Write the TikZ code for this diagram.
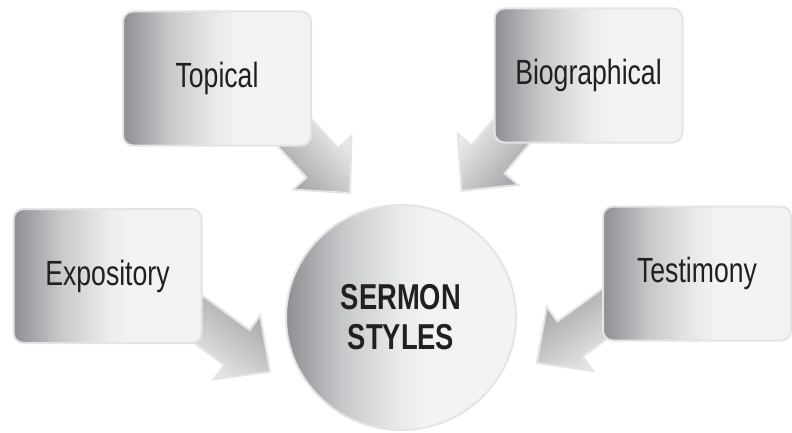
\documentclass[tikz,border=0pt]{standalone}
\usepackage{fontspec}
\newfontfamily\sermonfont{Liberation Sans}[FakeStretch=0.76]
\usetikzlibrary{calc, shapes.geometric}
\definecolor{ShadeDark}{HTML}{8E8F93}
\definecolor{ShadeMid}{HTML}{C8C9CB}
\definecolor{ShadeSoft}{HTML}{EAEBEC}
\definecolor{ShadeLight}{HTML}{F3F3F3}
\definecolor{ArrowDark}{HTML}{9D9EA2}
\definecolor{RimColor}{HTML}{E4E4E4}
\definecolor{TextColor}{HTML}{231F20}
\pgfdeclarehorizontalshading{sermon_shade}{100bp}{color(0bp)=(ShadeDark);
                                                  color(25bp)=(ShadeDark);
                                                  color(37.5bp)=(ShadeMid);
                                                  color(50bp)=(ShadeSoft);
                                                  color(56bp)=(ShadeLight);
                                                  color(100bp)=(ShadeLight)}
\pgfdeclarelayer{background}
\pgfsetlayers{background,main}
\tikzstyle{sermon_box}=[rectangle,
                        minimum height=3.35cm,
                        minimum width=4.7cm,
                        draw=RimColor,
                        line width=0.05cm,
                        rounded corners=0.25cm,
                        shading=sermon_shade,
                        text=TextColor,
                        font=\sermonfont\fontsize{24.9}{28}\selectfont, ]
\tikzstyle{sermon_hub}=[ellipse,
                        minimum width=5.75cm,
                        minimum height=5.625cm,
                        inner sep=0pt,
                        draw=RimColor,
                        line width=0.05cm,
                        shading=sermon_shade,
                        align=center,
                        text=TextColor,
                        font=\sermonfont\bfseries\fontsize{25.6}{28.45}\selectfont, ]
\tikzstyle{sermon_arrow}=[draw=RimColor,
                          line width=0.05cm,
                          line join=miter,
                          top color=ShadeLight,
                          bottom color=ArrowDark, ]
\newcommand{\sermonarrow}[3]{%
  \coordinate (arrow_tail) at ($(#1)!-0.9cm!(#2)$);
  \coordinate (arrow_neck) at ($(#2)!1.025cm!(#1)$);
  \draw[sermon_arrow, shading angle=#3]
    ($(arrow_tail)!0.54cm!90:(#2)$) -- ($(arrow_neck)!0.54cm!90:(#2)$)
    -- ($(arrow_neck)!0.99cm!90:(#2)$) -- (#2)
    -- ($(arrow_neck)!0.99cm!-90:(#2)$) -- ($(arrow_neck)!0.54cm!-90:(#2)$)
    -- ($(arrow_tail)!0.54cm!-90:(#2)$) -- cycle;
}
\begin{document}
\begin{tikzpicture}
    \useasboundingbox (0cm, 0cm) rectangle (19.8cm, -10.825cm);

    \node at (10.025cm, -7.9375cm) (sermon) [sermon_hub] {SERMON\\STYLES};

    \foreach \name/\x/\y/\label in {topical/5.425/-1.9625/Topical,
                                    biographical/14.7125/-1.8875/Biographical,
                                    expository/2.6875/-6.9/Expository,
                                    testimony/17.425/-6.8375/Testimony} {
      \node at (\x cm, \y cm) (\name) [sermon_box] {\label};
    }

    \begin{pgfonlayer}{background}
      \foreach \name/\side/\tx/\ty/\ang in {topical/-37/8.75/-4.825/-47.5,
                                            biographical/218/11.54/-4.77/49.3,
                                            expository/-26/6.75/-9.29/144,
                                            testimony/204/13.42/-9.075/215} {
        \coordinate (\name_tip) at (\tx cm, \ty cm);
        \sermonarrow{\name.\side}{\name_tip}{\ang}
      }
    \end{pgfonlayer}
\end{tikzpicture}
\end{document}
